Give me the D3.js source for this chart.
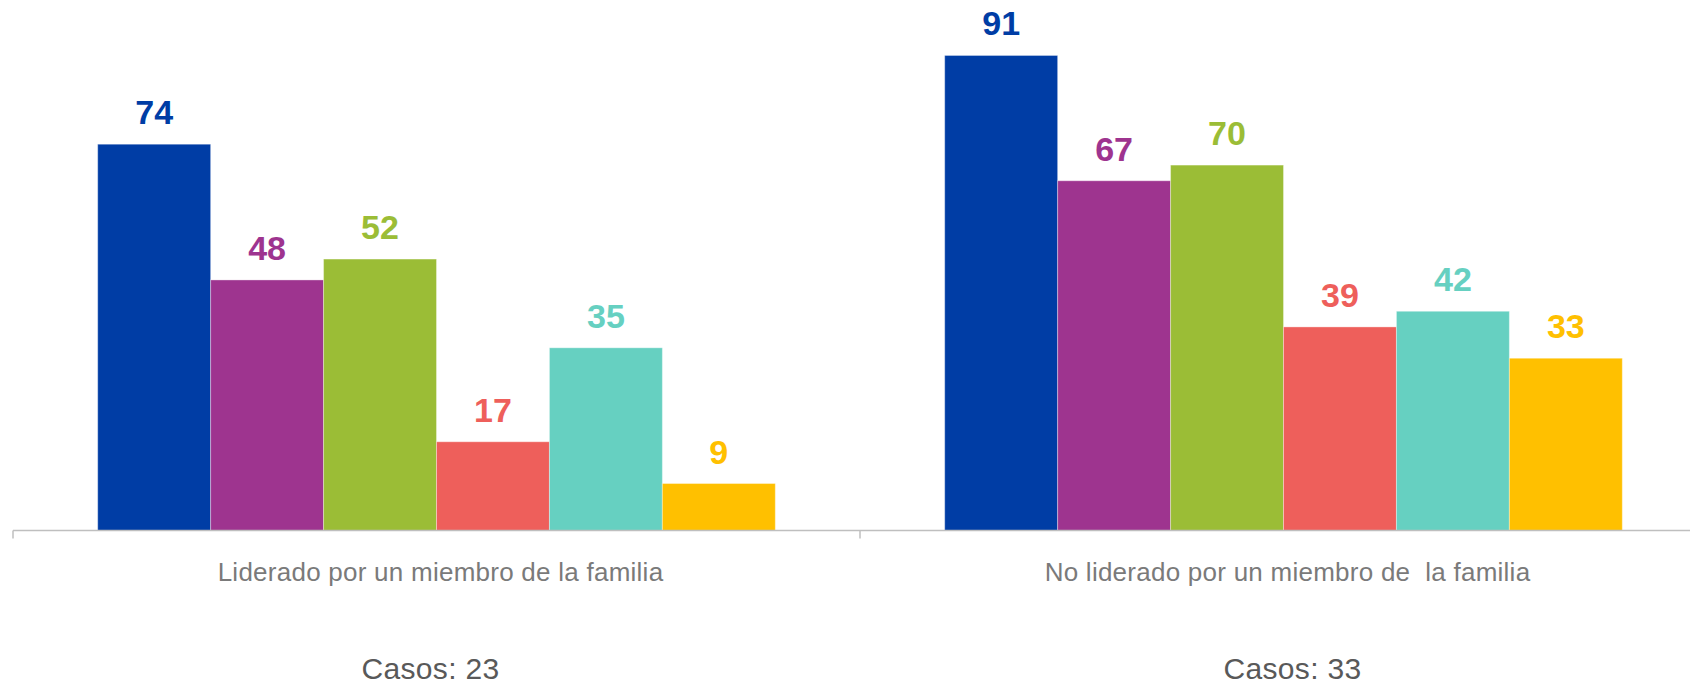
<!doctype html>
<html>
<head>
  <meta charset="utf-8">
  <script src="https://d3js.org/d3.v7.min.js"></script>
</head>
<style>
  body {
    margin: 0;
    background: #fff;
  }

  svg text {
    font-family: Arial, "Liberation Sans", sans-serif;
  }
</style>
<body>
<svg></svg>

<script>
  const categories = ["Liderado por un miembro de la familia", "No liderado por un miembro de  la familia"];
  const casos = ["Casos: 23", "Casos: 33"];
  const series = ["s1", "s2", "s3", "s4", "s5", "s6"];
  const valuesFamilia = [74, 48, 52, 17, 35, 9];
  const valuesNoFamilia = [91, 67, 70, 39, 42, 33];
  const colors = ["#003da5", "#9e348f", "#9bbd36", "#ee5f5b", "#66d0c1", "#ffc000"];

  const width = 1690, height = 686;
  const baseY = 530.5;

  const rows = [valuesFamilia, valuesNoFamilia];

  const svg = d3.select("svg")
    .attr("width", width)
    .attr("height", height);

  const x0 = d3.scaleBand()
    .domain(categories)
    .range([13, 1707])
    .padding(0);

  const x1 = d3.scaleBand()
    .domain(series)
    .range([0, x0.bandwidth()])
    .paddingInner(0)
    .paddingOuter(0.75);

  const y = d3.scaleLinear()
    .domain([0, 100])
    .range([baseY, baseY - 522]);

  const color = d3.scaleOrdinal()
    .domain(series)
    .range(colors);

  // bars + value labels
  const groups = svg.selectAll("g.cat")
    .data(categories)
    .enter().append("g")
    .attr("class", "cat")
    .attr("transform", d => `translate(${x0(d)},0)`);

  groups.each(function (cat, i) {
    const g = d3.select(this);
    const vals = rows[i].map((v, j) => ({ key: series[j], value: v }));

    g.selectAll("rect")
      .data(vals)
      .enter().append("rect")
      .attr("x", d => x1(d.key))
      .attr("y", d => y(d.value))
      .attr("width", x1.bandwidth())
      .attr("height", d => baseY - y(d.value))
      .attr("fill", d => color(d.key))
      .attr("stroke", "#ffffff")
      .attr("stroke-opacity", 0.35)
      .attr("stroke-width", 1);

    g.selectAll("text.val")
      .data(vals)
      .enter().append("text")
      .attr("class", "val")
      .attr("x", d => x1(d.key) + x1.bandwidth() / 2)
      .attr("y", d => y(d.value) - 20)
      .attr("text-anchor", "middle")
      .attr("fill", d => color(d.key))
      .style("font-size", "34px")
      .style("font-weight", "bold")
      .text(d => d.value);
  });

  // axis line with ticks at category boundaries
  const axis = svg.append("g")
    .attr("transform", `translate(0,${baseY})`);

  axis.append("line")
    .attr("x1", x0.range()[0])
    .attr("x2", x0.range()[1])
    .attr("stroke", "#bfbfbf")
    .attr("stroke-width", 1.5);

  const bounds = categories.map(c => x0(c)).concat([x0.range()[1]]);
  axis.selectAll("line.tick")
    .data(bounds)
    .enter().append("line")
    .attr("class", "tick")
    .attr("x1", d => d)
    .attr("x2", d => d)
    .attr("y1", 0)
    .attr("y2", 8)
    .attr("stroke", "#bfbfbf")
    .attr("stroke-width", 1.5);

  // category labels
  svg.selectAll("text.cat")
    .data(categories)
    .enter().append("text")
    .attr("class", "cat")
    .attr("x", d => x0(d) + x0.bandwidth() / 2 + 4)
    .attr("y", 581)
    .attr("text-anchor", "middle")
    .attr("fill", "#7a7a7a")
    .style("font-size", "26px")
    .style("letter-spacing", "0.25px")
    .style("white-space", "pre")
    .text(d => d);

  // casos
  const casosDx = [-6, 9];
  svg.selectAll("text.casos")
    .data(casos)
    .enter().append("text")
    .attr("class", "casos")
    .attr("x", (d, i) => x0(categories[i]) + x0.bandwidth() / 2 + casosDx[i])
    .attr("y", 679)
    .attr("text-anchor", "middle")
    .attr("fill", "#595959")
    .style("font-size", "30px")
    .style("letter-spacing", "0.3px")
    .text(d => d);
</script>
</body>
</html>
